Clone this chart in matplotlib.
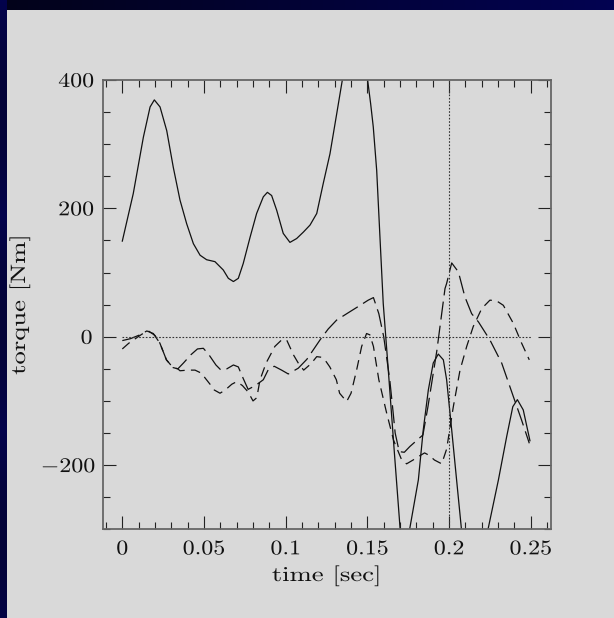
import numpy as np
import matplotlib
matplotlib.use("Agg")
import matplotlib.pyplot as plt
from matplotlib.ticker import FixedLocator, MultipleLocator
from matplotlib.patheffects import AbstractPathEffect
from matplotlib.transforms import Affine2D

plt.rcParams['font.family'] = ['cmr10', 'DejaVu Serif']
plt.rcParams['mathtext.fontset'] = 'cm'
plt.rcParams['lines.scale_dashes'] = False

# ---------------- data ----------------
solid_t = [0, 0.0067, 0.0129, 0.017, 0.0196, 0.0231, 0.0272, 0.0312, 0.0353, 0.0394,
           0.0435, 0.0476, 0.0516, 0.0567, 0.0618, 0.0649, 0.068, 0.071, 0.074, 0.0782,
           0.0822, 0.0863, 0.0888, 0.0914, 0.0945, 0.0985, 0.1026, 0.1067, 0.1108, 0.1149,
           0.119, 0.123, 0.1271, 0.1312, 0.1346, 0.1375, 0.1425, 0.147, 0.1502, 0.152,
           0.1536, 0.1557, 0.1577, 0.1597, 0.1628, 0.1665, 0.170, 0.173, 0.176, 0.1812,
           0.1842, 0.1873, 0.1903, 0.1934, 0.1965, 0.1985, 0.2016, 0.2046, 0.2075, 0.211,
           0.215, 0.22, 0.224, 0.2302, 0.2353, 0.239, 0.2418, 0.2454, 0.2495]
solid_y = [149, 223, 311, 358, 369, 358, 321, 264, 213, 176,
           145, 127, 120, 117, 104, 91, 86, 91, 114, 155,
           192, 218, 225, 220, 197, 161, 147, 153, 163, 174,
           192, 239, 285, 347, 399, 440, 470, 450, 399, 363,
           327, 259, 155, 52, -52, -180, -298, -340, -298, -223,
           -145, -83, -41, -27, -36, -67, -145, -223, -298, -370,
           -410, -370, -298, -223, -155, -109, -98, -114, -162]

long_t = [0, 0.005, 0.0108, 0.015, 0.019, 0.023, 0.027, 0.031, 0.034, 0.0374,
          0.042, 0.046, 0.0496, 0.053, 0.0573, 0.0604, 0.064, 0.068, 0.071, 0.074,
          0.077, 0.08, 0.082, 0.0863, 0.0894, 0.093, 0.0975, 0.1016, 0.1077, 0.113,
          0.117, 0.121, 0.126, 0.1312, 0.1393, 0.1456, 0.1505, 0.1537, 0.157, 0.160,
          0.1637, 0.1658, 0.167, 0.1695, 0.1726, 0.176, 0.18, 0.184, 0.187, 0.19,
          0.1925, 0.1944, 0.1975, 0.1985, 0.2016, 0.2057, 0.2097, 0.2138, 0.218, 0.225,
          0.2322, 0.2393, 0.2444, 0.2491]
long_y = [-6, -3, 3, 9, 5, -10, -36, -48, -50, -41,
          -28, -19, -18, -28, -44, -52, -50, -44, -47, -65,
          -82, -78, -75, -67, -51, -46, -52, -58, -49, -35,
          -20, -5, 12, 26, 39, 49, 57, 61, 36, 0,
          -67, -119, -150, -179, -180, -171, -162, -153, -110, -62,
          -22, 15, 75, 83, 115, 101, 62, 36, 23, -5,
          -41, -93, -130, -166]

med_t = [0, 0.004, 0.008, 0.012, 0.016, 0.02, 0.023, 0.027, 0.031, 0.034,
         0.0353, 0.04, 0.0445, 0.0486, 0.0506, 0.0537, 0.0563, 0.0598, 0.063, 0.067,
         0.070, 0.0735, 0.077, 0.08, 0.0823, 0.0843, 0.088, 0.0934, 0.0975, 0.1006,
         0.1047, 0.1077, 0.111, 0.1155, 0.119, 0.122, 0.124, 0.127, 0.131, 0.133,
         0.1373, 0.140, 0.1434, 0.1465, 0.1495, 0.1515, 0.1537, 0.157, 0.1618, 0.166,
         0.171, 0.174, 0.178, 0.181, 0.185, 0.188, 0.191, 0.1955, 0.1985, 0.2026,
         0.2067, 0.2108, 0.2148, 0.22, 0.225, 0.229, 0.2332, 0.2393, 0.2444, 0.2491]
med_y = [-19, -10, -3, 4, 9, 2, -10, -36, -48, -50,
         -53, -52, -52, -57, -64, -74, -83, -88, -83, -74,
         -70, -76, -86, -100, -95, -67, -41, -15, -5, -5,
         -28, -41, -52, -42, -31, -32, -36, -47, -67, -88,
         -101, -88, -52, -15, 5, 3, -15, -67, -119, -161,
         -192, -198, -192, -187, -181, -185, -192, -198, -175, -109,
         -52, -15, 16, 44, 57, 56, 49, 21, -10, -36]

ref_x = [0, 0.25]      # horizontal dotted reference (torque = 0)
ref_t = 0.2            # vertical dotted marker time

xticks = [0, 0.05, 0.1, 0.15, 0.2, 0.25]
xticklabels = ['0', '0.05', '0.1', '0.15', '0.2', '0.25']
yticks = [-200, 0, 200, 400]
yticklabels = [r'$-200$', r'$0$', r'$200$', r'$400$']


class Stretch(AbstractPathEffect):
    """Widen glyph runs horizontally about their own centre (wide screen font look)."""
    def __init__(self, sx):
        super().__init__()
        self.sx = sx

    def draw_path(self, renderer, gc, tpath, affine, rgbFace=None):
        ext = tpath.get_extents()
        c = 0.5 * (ext.x0 + ext.x1)
        t = Affine2D().translate(-c, 0).scale(self.sx, 1).translate(c, 0) + affine
        renderer.draw_path(gc, tpath, t, rgbFace)


# ---------------- figure ----------------
W, H = 614, 618
fig = plt.figure(figsize=(W / 100, H / 100), dpi=100)
fig.patch.set_facecolor('#04044a')

bg = np.zeros((H, W, 3))
gx = np.linspace(0, 1, W)
bg[:, :, 0] = 0.01
bg[:, :, 1] = 0.01
bg[:, :, 2] = (0.10 + 0.22 * gx)[None, :]
yy = np.linspace(0, 1, H)[:, None]
bg[:, :7, 2] = (0.30 - 0.08 * np.abs(np.sin(yy * 9)))
bg[10:, 7:, :] = 217 / 255.0
fig.figimage(bg, xo=0, yo=0, origin='upper', zorder=-10)

ax = fig.add_axes([102.7 / W, 1 - 529.3 / H, (550.7 - 102.7) / W, (529.3 - 80) / H])
ax.set_zorder(5)
ax.set_facecolor('#d9d9d9')

lw = 0.9
ax.plot(solid_t, solid_y, color='#111111', lw=lw)
ax.plot(long_t, long_y, color='#111111', lw=lw, dashes=(13, 4.5))
ax.plot(med_t, med_y, color='#111111', lw=lw, dashes=(7, 4.5))
ax.plot(ref_x, [0, 0], color='#333333', lw=0.8, dashes=(1.2, 1.2))
ax.axvline(ref_t, color='#333333', lw=0.8, dashes=(1.2, 1.2))

ax.set_xlim(-0.012, 0.2622)
ax.set_ylim(-300, 400)

ax.xaxis.set_major_locator(FixedLocator(xticks))
ax.set_xticklabels(xticklabels)
ax.xaxis.set_minor_locator(MultipleLocator(0.01))
ax.yaxis.set_major_locator(FixedLocator(yticks))
ax.set_yticklabels(yticklabels)
ax.yaxis.set_minor_locator(MultipleLocator(50))

ax.tick_params(which='both', direction='in', top=True, right=True, color='#222222')
ax.tick_params(which='major', length=9.4, width=0.8, labelsize=15, labelcolor='#111111')
ax.tick_params(axis='x', which='major', pad=8)
ax.tick_params(axis='y', which='major', pad=7)
ax.tick_params(which='minor', length=5, width=0.8)
for s in ax.spines.values():
    s.set_color('#666666')
    s.set_linewidth(1.3)

for lab in ax.get_xticklabels() + ax.get_yticklabels():
    lab.set_path_effects([Stretch(1.15)])

ax.set_xlabel('time [sec]', fontsize=15, color='#111111')
ax.set_ylabel('torque [Nm]', fontsize=15, color='#111111')
ax.xaxis.label.set_va('center')
ax.yaxis.label.set_va('center')
ax.xaxis.set_label_coords(0.5, (529.3 - 576) / 449.3)
ax.yaxis.set_label_coords((20 - 102.7) / 448, 0.5)
ax.xaxis.label.set_path_effects([Stretch(1.28)])
ax.yaxis.label.set_path_effects([Stretch(1.28)])

fig.savefig('out.png', dpi=100, facecolor=fig.get_facecolor())
